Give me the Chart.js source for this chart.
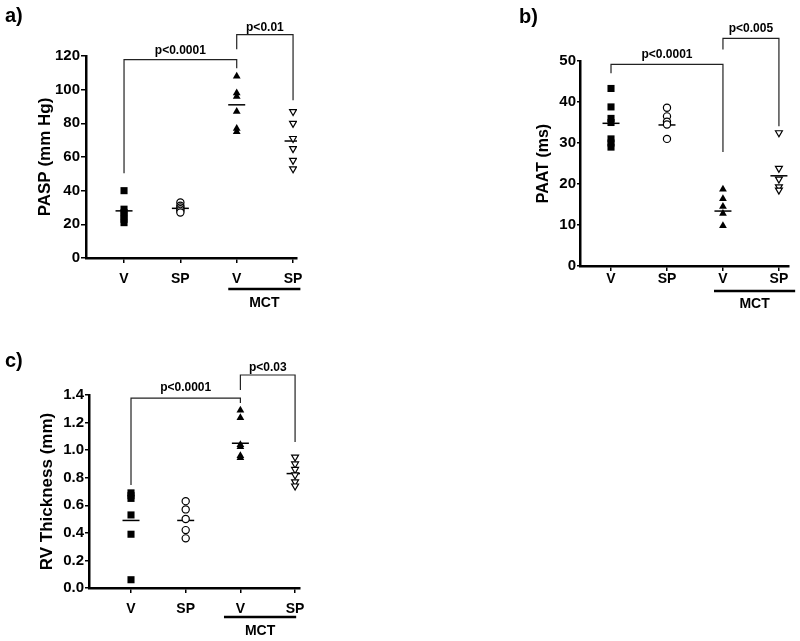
<!DOCTYPE html>
<html>
<head>
<meta charset="utf-8">
<script src="https://cdn.jsdelivr.net/npm/chart.js@4"></script>
<style>
  html, body { margin: 0; padding: 0; background: #fff; }
  #wrap { position: relative; width: 800px; height: 641px; overflow: hidden; }
  canvas { position: absolute; }
</style>
</head>
<body>
<div id="wrap">
  <canvas id="chartA" width="330" height="320" style="left:0;top:0"></canvas>
  <canvas id="chartB" width="320" height="320" style="left:480px;top:0"></canvas>
  <canvas id="chartC" width="330" height="311" style="left:0;top:330px"></canvas>
</div>
<script>
// group labels under the x axis
var groups = ['V', 'SP', 'V', 'SP'];

// a) PASP (mm Hg)
var paspV     = [40, 29, 27, 25, 23, 21];
var paspSP    = [33, 31, 30, 29, 28, 27];
var paspMctV  = [108, 98, 96, 87, 77, 75];
var paspMctSP = [87, 80, 71, 65, 58, 53];
var paspMeans = [28, 29.5, 91, 69.5];
var paspTicks = [0, 20, 40, 60, 80, 100, 120];

// b) PAAT (ms)
var paatV     = [43.3, 38.8, 36, 35, 31, 30, 29];
var paatSP    = [38.6, 36.5, 35.2, 34.5, 31];
var paatMctV  = [18.7, 16.4, 14.5, 12.8, 9.8];
var paatMctSP = [32.5, 23.8, 21.2, 19.3, 18.5];
var paatMeans = [34.8, 34.4, 13.4, 22];
var paatTicks = [0, 10, 20, 30, 40, 50];

// c) RV Thickness (mm)
var rvV     = [0.69, 0.67, 0.65, 0.53, 0.39, 0.06];
var rvSP    = [0.63, 0.57, 0.50, 0.42, 0.36];
var rvMctV  = [1.29, 1.235, 1.04, 1.025, 0.96, 0.945];
var rvMctSP = [0.95, 0.90, 0.86, 0.82, 0.77, 0.74];
var rvMeans = [0.49, 0.49, 1.05, 0.83];
var rvTicks = [0, 0.2, 0.4, 0.6, 0.8, 1.0, 1.2, 1.4];

// significance brackets: group indices, y ends and top, label
var paspBrackets = [
  { x1: 0, x2: 2, left: 50.4, top: 117.9, right: 112.7, label: 'p<0.0001', gap: 6 },
  { x1: 2, x2: 3, left: 124, top: 132.7, right: 93.7, label: 'p<0.01', gap: 4 }
];
var paatBrackets = [
  { x1: 0, x2: 2, left: 47, top: 49.2, right: 27.8, label: 'p<0.0001', gap: 6.5 },
  { x1: 2, x2: 3, left: 52.8, top: 55.5, right: 34.1, label: 'p<0.005', gap: 6 }
];
var rvBrackets = [
  { x1: 0, x2: 2, left: 0.747, top: 1.378, right: 1.342, label: 'p<0.0001', gap: 7.5 },
  { x1: 2, x2: 3, left: 1.436, top: 1.545, right: 1.059, label: 'p<0.03', gap: 4.5 }
];

var FONT = '"Liberation Sans", Arial, Helvetica, sans-serif';

function pts(xi, vals) {
  return vals.map(function (v) { return { x: xi, y: v }; });
}

// brackets, panel letter and the MCT underline
var annot = {
  id: 'annot',
  afterDraw: function (chart, args, o) {
    var ctx = chart.ctx, xs = chart.scales.x, ys = chart.scales.y, ca = chart.chartArea;
    ctx.save();
    ctx.fillStyle = '#000';
    ctx.font = 'bold 20px ' + FONT;
    ctx.textAlign = 'left';
    ctx.textBaseline = 'middle';
    ctx.fillText(o.letter, o.letterX, o.letterY);

    o.brackets.forEach(function (b) {
      var x1 = xs.getPixelForValue(b.x1), x2 = xs.getPixelForValue(b.x2);
      var yt = ys.getPixelForValue(b.top);
      ctx.strokeStyle = '#222';
      ctx.lineWidth = 1.2;
      ctx.beginPath();
      ctx.moveTo(x1, ys.getPixelForValue(b.left));
      ctx.lineTo(x1, yt);
      ctx.lineTo(x2, yt);
      ctx.lineTo(x2, ys.getPixelForValue(b.right));
      ctx.stroke();
      ctx.font = 'bold 12px ' + FONT;
      ctx.textAlign = 'center';
      ctx.textBaseline = 'alphabetic';
      ctx.fillText(b.label, (x1 + x2) / 2, yt - b.gap);
    });

    var m = o.mct;
    var mx1 = xs.getPixelForValue(m.from), mx2 = xs.getPixelForValue(m.to);
    ctx.strokeStyle = '#000';
    ctx.lineWidth = 2.5;
    ctx.beginPath();
    ctx.moveTo(mx1, ca.bottom + m.lineDy);
    ctx.lineTo(mx2, ca.bottom + m.lineDy);
    ctx.stroke();
    ctx.font = 'bold 14px ' + FONT;
    ctx.textAlign = 'center';
    ctx.textBaseline = 'middle';
    ctx.fillText('MCT', (mx1 + mx2) / 2, ca.bottom + m.textDy);
    ctx.restore();
  }
};

function makePanel(id, p) {
  var datasets = [
    { data: pts(0, p.v), pointStyle: 'rect', pointRadius: 5, backgroundColor: '#000', borderColor: '#000', borderWidth: 0 },
    { data: pts(1, p.sp), pointStyle: 'circle', pointRadius: 3.6, backgroundColor: '#fff', borderColor: '#000', borderWidth: 1.2 },
    { data: pts(2, p.mctV), pointStyle: 'triangle', pointRadius: 4.5, backgroundColor: '#000', borderColor: '#000', borderWidth: 0 },
    { data: pts(3, p.mctSP), pointStyle: 'triangle', pointRotation: 180, pointRadius: 4, backgroundColor: '#fff', borderColor: '#000', borderWidth: 1.2 },
    { data: p.means.map(function (v, i) { return { x: i, y: v }; }), pointStyle: 'line', pointRadius: 8.5, borderColor: '#000', borderWidth: 1.5 }
  ];

  return new Chart(document.getElementById(id), {
    type: 'scatter',
    data: { datasets: datasets },
    plugins: [annot],
    options: {
      responsive: false,
      animation: false,
      events: [],
      layout: { padding: { top: p.top, right: p.right, left: 0, bottom: 0 } },
      plugins: {
        legend: { display: false },
        tooltip: { enabled: false },
        annot: { letter: p.letter, letterX: p.letterX, letterY: p.letterY, brackets: p.brackets, mct: p.mct }
      },
      scales: {
        x: {
          type: 'linear',
          min: p.xMin,
          max: p.xMax,
          afterBuildTicks: function (s) { s.ticks = [0, 1, 2, 3].map(function (v) { return { value: v }; }); },
          afterFit: function (s) { s.height = p.xHeight; },
          ticks: {
            callback: function (v) { return groups[v]; },
            font: { family: FONT, size: 14, weight: 'bold' },
            color: '#000',
            padding: p.xPad,
            maxRotation: 0,
            autoSkip: false
          },
          grid: { display: true, drawOnChartArea: false, drawTicks: true, tickLength: 5, color: '#000', lineWidth: 1.5 },
          border: { display: true, color: '#000', width: 2.5 }
        },
        y: {
          min: p.yTicks[0],
          max: p.yTicks[p.yTicks.length - 1],
          afterBuildTicks: function (s) { s.ticks = p.yTicks.map(function (v) { return { value: v }; }); },
          afterFit: function (s) { s.width = p.yWidth; },
          ticks: {
            callback: p.fmt,
            font: { family: FONT, size: 15, weight: 'bold' },
            color: '#000',
            padding: 1
          },
          grid: { display: true, drawOnChartArea: false, drawTicks: true, tickLength: p.tickLen, color: '#000', lineWidth: 1.5 },
          border: { display: true, color: '#000', width: 2.5 },
          title: {
            display: true,
            text: p.title,
            color: '#000',
            font: { family: FONT, size: p.titleSize, weight: 'bold' },
            padding: { top: p.titlePad, bottom: 0 }
          }
        }
      }
    }
  });
}

makePanel('chartA', {
  v: paspV, sp: paspSP, mctV: paspMctV, mctSP: paspMctSP, means: paspMeans,
  yTicks: paspTicks, fmt: function (v) { return v; },
  title: 'PASP (mm Hg)', titleSize: 17, titlePad: 35,
  top: 56, right: 33, yWidth: 86, xHeight: 62, tickLen: 5, xPad: 8,
  xMin: -0.675, xMax: 3.07,
  letter: 'a)', letterX: 5, letterY: 16,
  brackets: paspBrackets,
  mct: { from: 1.85, to: 3.13, lineDy: 31, textDy: 45 }
});

makePanel('chartB', {
  v: paatV, sp: paatSP, mctV: paatMctV, mctSP: paatMctSP, means: paatMeans,
  yTicks: paatTicks, fmt: function (v) { return v; },
  title: 'PAAT (ms)', titleSize: 16, titlePad: 54,
  top: 61, right: 11, yWidth: 100, xHeight: 54, tickLen: 3, xPad: 0,
  xMin: -0.554, xMax: 3.18,
  letter: 'b)', letterX: 39, letterY: 17,
  brackets: paatBrackets,
  mct: { from: 1.84, to: 3.29, lineDy: 25, textDy: 38 }
});

makePanel('chartC', {
  v: rvV, sp: rvSP, mctV: rvMctV, mctSP: rvMctSP, means: rvMeans,
  yTicks: rvTicks, fmt: function (v) { return v.toFixed(1); },
  title: 'RV Thickness (mm)', titleSize: 17, titlePad: 37,
  top: 65, right: 30, yWidth: 89, xHeight: 53, tickLen: 4, xPad: 8,
  xMin: -0.768, xMax: 3.09,
  letter: 'c)', letterX: 5, letterY: 31,
  brackets: rvBrackets,
  mct: { from: 1.70, to: 3.02, lineDy: 29, textDy: 43 }
});
</script>
</body>
</html>
